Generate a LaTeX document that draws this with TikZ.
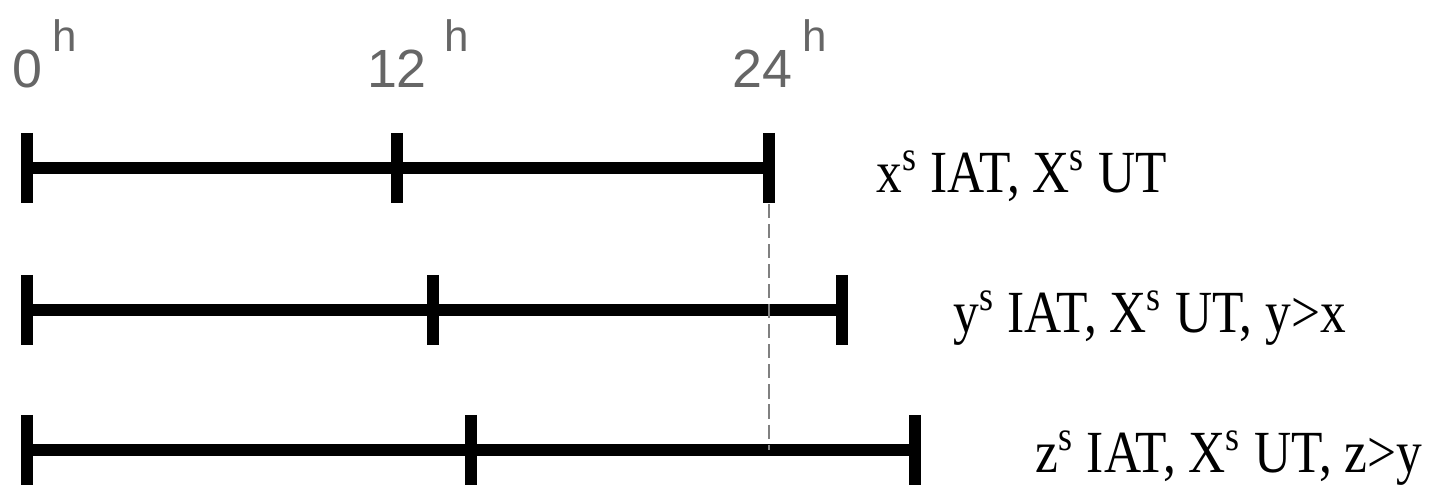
\documentclass[tikz,border=0pt]{standalone}
\usepackage{fontspec}
\setmainfont{Liberation Serif}
\newfontfamily\hourfont{Liberation Sans}
\usetikzlibrary{positioning}
\newcommand{\narrow}[1]{\scalebox{0.86}[1]{#1}}

\begin{document}
\begin{tikzpicture}[
    x=0.01cm, y=-0.01cm,
    bar/.style={line width=3.4pt},
    hour/.style={font=\hourfont\fontsize{15.3}{16}\selectfont, text=black!60, anchor=base, inner sep=0pt},
    lbl/.style={font=\fontsize{17}{18}\selectfont, inner sep=0pt, yshift=-0.08cm},
    guide/.style={gray, line width=0.4pt, dash pattern=on 4pt off 1.7pt}
]
    \useasboundingbox (0,0) rectangle (1440,487);

    % the three days
    \coordinate (x0) at (27,168);  \coordinate (x12) at (397,168); \coordinate (x24) at (769,168);
    \coordinate (y0) at (27,310);  \coordinate (y12) at (433,310); \coordinate (y24) at (842,310);
    \coordinate (z0) at (27,450);  \coordinate (z12) at (471,450); \coordinate (z24) at (915,450);

    \foreach \r in {x,y,z}{
        \draw[bar] (\r0) -- (\r24);
        \foreach \k in {0,12,24}
            \draw[bar] ([yshift=0.35cm]\r\k) -- ([yshift=-0.35cm]\r\k);
    }

    % hours
    \node[hour] (h0) at (27,87) {0\rlap{\hspace{3pt}\raisebox{10pt}{\fontsize{12.5}{13}\selectfont h}}};
    \node[hour] (h12) at (397,87) {12\rlap{\hspace{5pt}\raisebox{10pt}{\fontsize{12.5}{13}\selectfont h}}};
    \node[hour] (h24) at (762,87) {24\rlap{\hspace{3pt}\raisebox{10pt}{\fontsize{12.5}{13}\selectfont h}}};

    \draw[guide] ([yshift=-0.36cm]x24) -- (x24 |- z0);

    \node[lbl, right=1.07cm of x24] (lx) {\narrow{x\textsuperscript{s} IAT, X\textsuperscript{s} UT}};
    \node[lbl, right=1.11cm of y24] (ly) {\narrow{y\textsuperscript{s} IAT, X\textsuperscript{s} UT, y>x}};
    \node[lbl, right=1.20cm of z24] (lz) {\narrow{z\textsuperscript{s} IAT, X\textsuperscript{s} UT, z>y}};
\end{tikzpicture}
\end{document}
